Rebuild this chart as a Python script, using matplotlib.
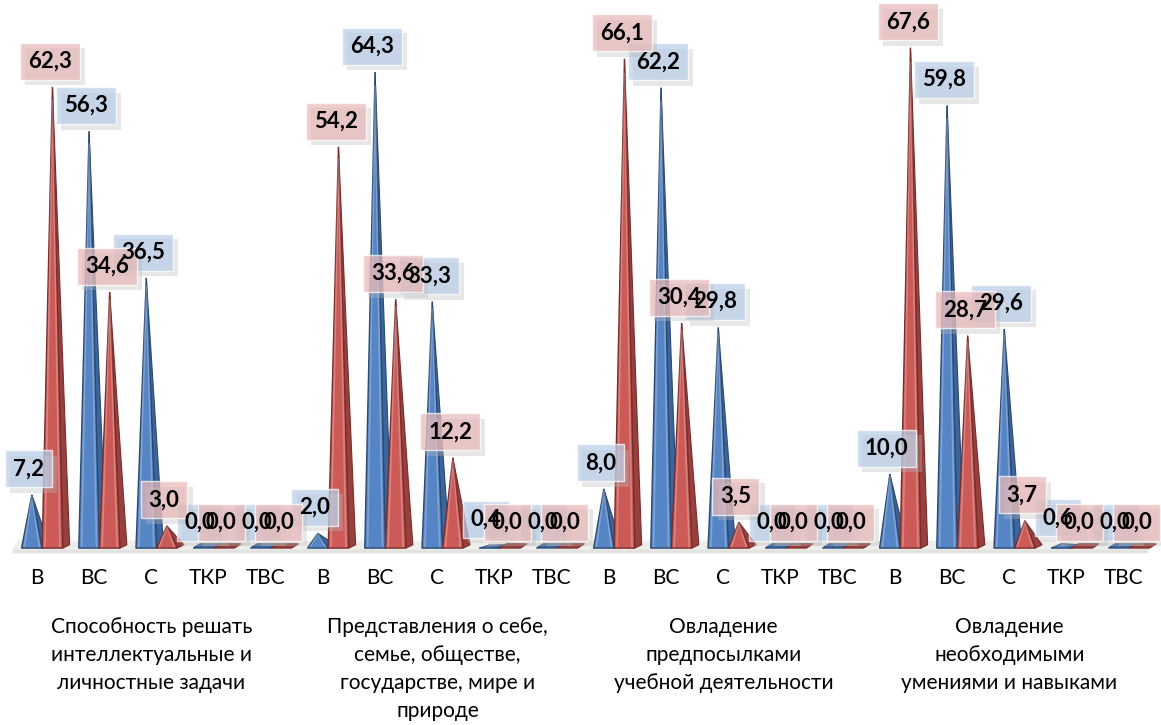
import numpy as np
import matplotlib.pyplot as plt
from matplotlib import patheffects as pe

plt.rcParams['font.family'] = ['Lato', 'DejaVu Sans']

# Data
levels = ['В', 'ВС', 'С', 'ТКР', 'ТВС']
groups = ['Способность решать\nинтеллектуальные и\nличностные задачи',
          'Представления о себе,\nсемье, обществе,\nгосударстве, мире и\nприроде',
          'Овладение\nпредпосылками\nучебной деятельности',
          'Овладение\nнеобходимыми\nумениями и навыками']
blue_vals = [7.2, 56.3, 36.5, 0.0, 0.0,
             2.0, 64.3, 33.3, 0.4, 0.0,
             8.0, 62.2, 29.8, 0.0, 0.0,
             10.0, 59.8, 29.6, 0.6, 0.0]
red_vals = [62.3, 34.6, 3.0, 0.0, 0.0,
            54.2, 33.6, 12.2, 0.0, 0.0,
            66.1, 30.4, 3.5, 0.0, 0.0,
            67.6, 28.7, 3.7, 0.0, 0.0]

# colours: face, side, edge, label box
blue = ('#5585c4', '#3b659c', '#2a4a74', '#b9cde6')
red = ('#cc5b58', '#98403d', '#7a2c2a', '#e8b9b8')

fig = plt.figure(figsize=(11.61, 7.25), dpi=100)
ax = fig.add_axes([0, 0, 1, 1])
ax.set_xlim(-0.647, 19.65)
ax.set_ylim(-23.9, 74.05)
ax.axis('off')

w = 0.18    # half width of the front face
d = 0.12    # depth of the side face
dy = 0.45   # vertical shift of the back corner


def pyramid(xc, h, col):
    face, side, edge, _ = col
    if h < 0.05:
        ax.fill([xc - w, xc + w, xc + w + d, xc - w + d],
                [0, 0, dy * 1.3, dy * 1.3], color=side, ec=edge, lw=0.8, zorder=3)
        return
    ax.fill([xc + w, xc, xc + w + d], [0, h, dy], color=side, ec=edge, lw=0.8, zorder=3)
    ax.fill([xc - w, xc, xc + w], [0, h, 0], color=face, ec=edge, lw=1.0, zorder=4)
    # light inner bevel
    ax.plot([xc - w * 0.72, xc, xc + w * 0.72], [0.25, h * 0.97, 0.25],
            color='white', alpha=0.25, lw=1.2, zorder=5)


def label(x, y, v, col, z):
    s = f'{v:.1f}'.replace('.', ',')
    # box first (text invisible), then the text on top of every box
    t = ax.text(x, y, s, ha='center', va='center', fontsize=16,
                fontweight='bold', color='none', zorder=8 + z,
                bbox=dict(boxstyle='square,pad=0.36', fc=col[3], ec='white',
                          lw=1.0, alpha=0.72))
    t.get_bbox_patch().set_path_effects(
        [pe.SimplePatchShadow(offset=(4, -4), shadow_rgbFace='#bbbbbb', alpha=0.35),
         pe.Normal()])
    ax.text(x, y, s, ha='center', va='center', fontsize=16,
            fontweight='bold', color='black', zorder=12)


# floor
ax.fill([-0.42, 19.4, 19.5, -0.32], [-0.25, -0.25, 0.9, 0.9],
        color='#eeeeec', zorder=1)
ax.fill([-0.42, 19.4, 19.4, -0.42], [-0.25, -0.25, -0.55, -0.55],
        color='#e2e2de', zorder=1)

x = np.arange(len(blue_vals))
for i in x:
    pyramid(i - 0.09, blue_vals[i], blue)
    pyramid(i + 0.27, red_vals[i], red)
    label(i - 0.15, blue_vals[i] + 3.5, blue_vals[i], blue, 0)
    label(i + 0.22, red_vals[i] + 3.5, red_vals[i], red, 1)
    ax.text(i, -4.1, levels[i % 5], ha='center', va='center', fontsize=15)

for g, name in enumerate(groups):
    ax.text(g * 5 + 2, -9.3, name, ha='center', va='top', fontsize=15,
            linespacing=1.5)

fig.savefig('out.png', dpi=100)
